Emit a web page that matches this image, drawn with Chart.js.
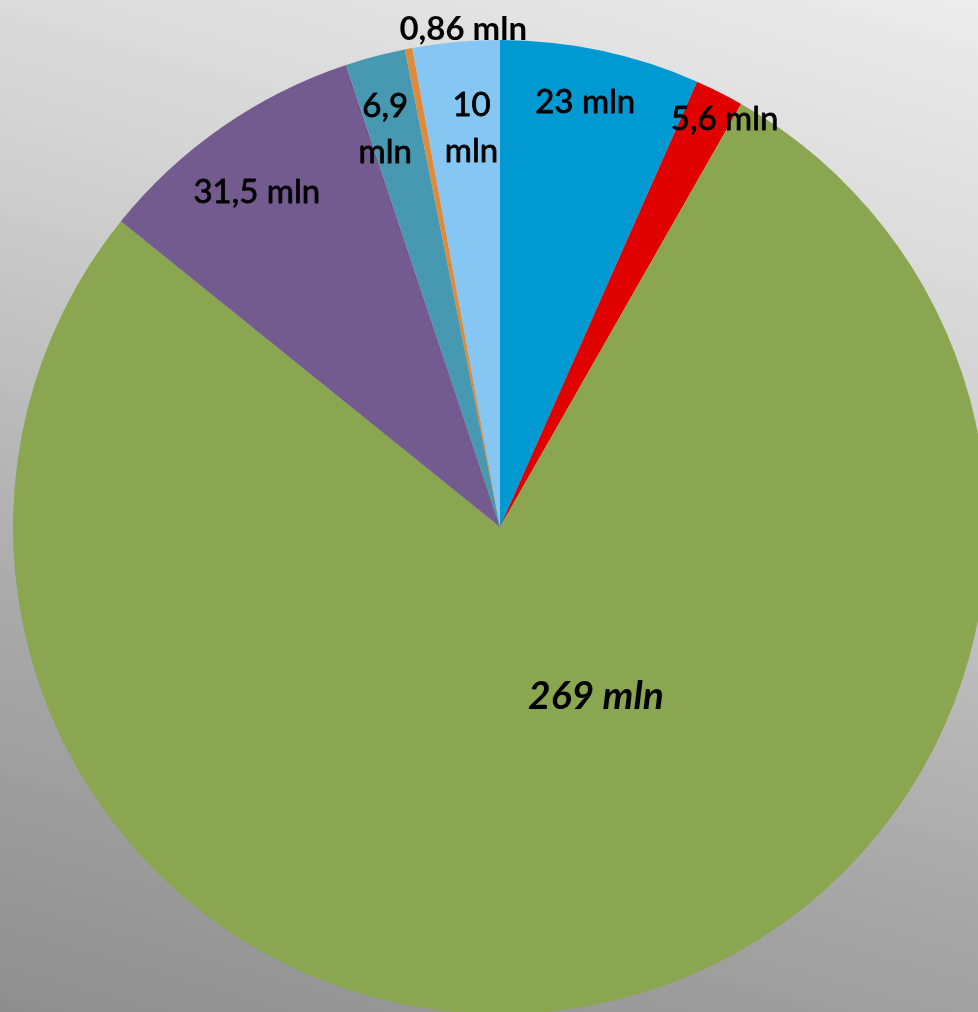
<!DOCTYPE html>
<html>
<head>
<meta charset="utf-8">
<title>Pie chart</title>
<script src="https://cdn.jsdelivr.net/npm/chart.js@4"></script>
<style>
  html, body {
    margin: 0;
    padding: 0;
    width: 978px;
    height: 1012px;
    overflow: hidden;
  }
  body {
    background: linear-gradient(196deg, #ececec 0%, #d4d4d4 30%, #a8a8a8 70%, #8e8e8e 100%);
    position: relative;
  }
  #chartBox {
    position: absolute;
    left: 13px;
    top: 0;
    width: 974px;
    height: 1014px;
  }
</style>
</head>
<body>
<div id="chartBox"><canvas id="pieChart"></canvas></div>
<script>
// Chart data
const categories = ["A", "B", "C", "D", "E", "F", "G"];
const values = [23, 5.6, 269, 31.5, 6.9, 0.86, 10];
const valueLabels = ["23 mln", "5,6 mln", "269 mln", "31,5 mln", "6,9\nmln", "0,86 mln", "10\nmln"];
const sliceColors = ["#0099d2", "#e10000", "#8aa650", "#735a8f", "#4699b1", "#e08a3c", "#86c6f2"];

// Label placement: angle shift from slice middle (deg), radius fraction
const labelPlace = [
  [-0.6, 0.89],
  [2.1, 0.955],
  [-18.8, 0.40],
  [-1.2, 0.85],
  [-1.25, 0.85],
  [6.6, 1.025],
  [1.1, 0.82]
];

// Draw labels on top of slices
const sliceLabels = {
  id: "sliceLabels",
  afterDatasetsDraw(chart) {
    const ctx = chart.ctx;
    const arcs = chart.getDatasetMeta(0).data;
    ctx.save();
    ctx.textAlign = "center";
    ctx.textBaseline = "middle";
    ctx.fillStyle = "#000";
    ctx.strokeStyle = "#000";
    ctx.lineWidth = 0.8;
    ctx.lineJoin = "round";
    arcs.forEach((arc, i) => {
      const p = arc.getProps(["x", "y", "startAngle", "endAngle", "outerRadius"], true);
      const mid = (p.startAngle + p.endAngle) / 2 + labelPlace[i][0] * Math.PI / 180;
      const r = p.outerRadius * labelPlace[i][1];
      const x = p.x + Math.cos(mid) * r;
      const y = p.y + Math.sin(mid) * r;
      if (i === 2) {
        ctx.font = "italic bold 39px Lato";
      } else if (i === 5) {
        ctx.font = "bold 33px Lato";
      } else {
        ctx.font = "33px Lato";
      }
      const lines = valueLabels[i].split("\n");
      const lh = 46;
      lines.forEach((line, j) => {
        const ly = y + (j - (lines.length - 1) / 2) * lh;
        ctx.fillText(line, x, ly);
        if (i !== 2 && i !== 5) ctx.strokeText(line, x, ly);
      });
    });
    ctx.restore();
  }
};

new Chart(document.getElementById("pieChart"), {
  type: "pie",
  data: {
    labels: categories,
    datasets: [
      {
        data: values,
        backgroundColor: sliceColors,
        borderWidth: 0
      }
    ]
  },
  options: {
    responsive: true,
    maintainAspectRatio: false,
    animation: false,
    layout: { padding: { top: 40, left: 0, right: 0, bottom: 0 } },
    plugins: {
      legend: { display: false },
      tooltip: { enabled: false }
    }
  },
  plugins: [sliceLabels]
});
</script>
</body>
</html>
